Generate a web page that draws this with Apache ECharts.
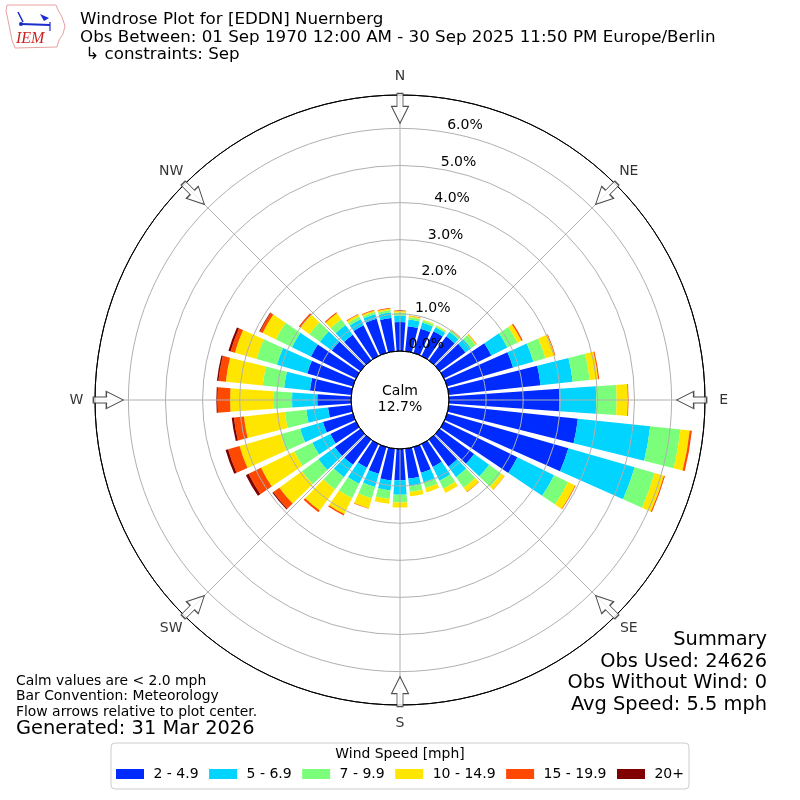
<!DOCTYPE html>
<html>
<head>
<meta charset="utf-8">
<script src="https://cdn.jsdelivr.net/npm/echarts@6/dist/echarts.min.js"></script>
<style>
html,body{margin:0;padding:0;background:#ffffff;}
#chart{width:800px;height:800px;}
</style>
</head>
<body>
<div id="chart"></div>
<script>
// ---------------- data ----------------
const directions = [0,10,20,30,40,50,60,70,80,90,100,110,120,130,140,150,160,170,
                    180,190,200,210,220,230,240,250,260,270,280,290,300,310,320,330,340,350];
const speedBins = ['2 - 4.9','5 - 6.9','7 - 9.9','10 - 14.9','15 - 19.9','20+'];
const binColors = ['#002bff','#00d4ff','#7bff7b','#ffe600','#ff4800','#800000'];

// percent of observations per direction for each speed bin
const bin2to5 = [0.78,0.68,0.68,0.74,0.80,0.86,1.42,1.85,2.49,2.98,3.50,3.40,2.20,1.15,0.90,0.69,0.72,0.81,
                 0.84,0.86,0.75,0.71,0.84,0.85,0.77,0.84,0.63,0.91,1.12,1.28,1.35,0.95,0.85,0.92,0.96,0.90];
const bin5to7 = [0.18,0.18,0.17,0.12,0.15,0.19,0.48,0.57,0.87,0.99,1.96,1.86,1.10,0.50,0.35,0.41,0.27,0.21,
                 0.39,0.27,0.37,0.48,0.41,0.55,0.54,0.64,0.59,0.68,0.70,0.85,0.57,0.40,0.33,0.18,0.13,0.15];
const bin7to10 = [0.08,0.07,0.06,0.04,0.05,0.15,0.30,0.34,0.46,0.55,0.82,0.56,0.42,0.40,0.35,0.24,0.16,0.15,
                  0.21,0.23,0.32,0.43,0.41,0.55,0.54,0.55,0.58,0.51,0.58,0.57,0.48,0.35,0.19,0.08,0.06,0.07];
const bin10to15 = [0.04,0.03,0.02,0.02,0.02,0.03,0.12,0.26,0.23,0.30,0.25,0.26,0.21,0.11,0.14,0.13,0.12,0.12,
                   0.14,0.13,0.28,0.48,0.70,0.75,1.00,1.15,1.11,1.16,1.00,0.61,0.40,0.30,0.20,0.06,0.04,0.04];
const bin15to20 = [0.01,0.01,0.00,0.00,0.01,0.01,0.04,0.02,0.03,0.02,0.06,0.03,0.02,0.01,0.01,0.00,0.00,0.00,
                   0.00,0.00,0.01,0.04,0.06,0.20,0.37,0.32,0.27,0.34,0.20,0.12,0.08,0.05,0.03,0.02,0.02,0.02];
const bin20plus = [0,0,0,0,0,0,0,0,0,0,0,0,0,0,0,0,0,0,
                   0,0,0,0,0,0.03,0.08,0.07,0.06,0.03,0.04,0.06,0.02,0,0,0,0,0];
const binValues = [bin2to5, bin5to7, bin7to10, bin10to15, bin15to20, bin20plus];

const radiusMax = 6.9;
const compassLabels = ['N','NE','E','SE','S','SW','W','NW'];
const compassAngles = [0,45,90,135,180,225,270,315];
const calmPercent = 12.7;

const titleLines = ['Windrose Plot for [EDDN] Nuernberg',
                    'Obs Between: 01 Sep 1970 12:00 AM - 30 Sep 2025 11:50 PM Europe/Berlin',
                    ' \u21b3 constraints: Sep'];
const noteLines = ['Calm values are < 2.0 mph','Bar Convention: Meteorology','Flow arrows relative to plot center.'];
const generatedText = 'Generated: 31 Mar 2026';
const summaryLines = ['Summary','Obs Used: 24626','Obs Without Wind: 0','Avg Speed: 5.5 mph'];
const legendTitle = 'Wind Speed [mph]';

// ---------------- chart ----------------
const FONT = 'DejaVu Sans';
const GRID = '#b0b0b0';
const chart = echarts.init(document.getElementById('chart'), null, {renderer: 'canvas'});

const polarRadius = [49, 305];
const labelRadiusValue = 7.40;   // where compass letters sit (beyond the frame)
const arrowRadiusValue = 6.54;   // centre of the flow arrows

const barSeries = speedBins.map((name, i) => ({
  name: name,
  type: 'bar',
  coordinateSystem: 'polar',
  polarIndex: 0,
  stack: 'wind',
  data: binValues[i],
  barCategoryGap: '20%',
  itemStyle: {color: binColors[i]},
  z: 2
}));

const arrowPath = 'path://M-3,0 L3,0 L3,13 L8.5,13 L0,30 L-8.5,13 L-3,13 Z';

const option = {
  animation: false,
  backgroundColor: '#ffffff',
  textStyle: {fontFamily: FONT},
  polar: [
    {center: ['50%','50%'], radius: polarRadius},
    {center: ['50%','50%'], radius: polarRadius},
    {center: ['50%','50%'], radius: polarRadius}
  ],
  angleAxis: [
    {
      polarIndex: 0, type: 'category', data: directions.map(String),
      startAngle: 95, clockwise: true, show: false
    },
    {
      polarIndex: 1, type: 'value', min: 0, max: 360, interval: 45,
      startAngle: 90, clockwise: true, z: 5,
      axisLine: {show: true, lineStyle: {color: '#000', width: 1}},
      axisTick: {show: false},
      axisLabel: {show: false},
      splitLine: {show: true, lineStyle: {color: GRID, width: 1}}
    },
    {
      polarIndex: 2, type: 'value', min: 0, max: 360,
      startAngle: 80, clockwise: true, show: false
    }
  ],
  radiusAxis: [
    {
      polarIndex: 0, type: 'value', min: 0, max: radiusMax, interval: 1, z: 5,
      axisLine: {show: false}, axisTick: {show: false}, axisLabel: {show: false},
      splitLine: {show: true, lineStyle: {color: ['#000000', GRID, GRID, GRID, GRID, GRID, GRID, '#000000'], width: 1}}
    },
    {
      polarIndex: 1, type: 'value', min: 0, max: radiusMax,
      axisLine: {show: false}, axisTick: {show: false}, axisLabel: {show: false}, splitLine: {show: false}
    },
    {
      polarIndex: 2, type: 'value', min: 0, max: radiusMax, interval: 1, z: 8,
      axisLine: {show: false}, axisTick: {show: false}, splitLine: {show: false},
      axisLabel: {
        show: true, margin: 0, align: 'left', verticalAlign: 'bottom',
        fontFamily: FONT, fontSize: 14, color: '#000',
        formatter: v => (Math.abs(v - Math.round(v)) < 1e-6 ? v.toFixed(1) + '%' : '')
      }
    }
  ],
  legend: {
    data: speedBins,
    left: 'center', top: 743,
    orient: 'horizontal',
    icon: 'rect',
    itemWidth: 28, itemHeight: 10, itemGap: 10.5,
    padding: [24, 5, 8, 5],
    borderColor: '#cccccc', borderWidth: 1, borderRadius: 4,
    formatter: n => ' ' + n,
    textStyle: {fontFamily: FONT, fontSize: 14, color: '#000'}
  },
  series: barSeries.concat([
    {
      type: 'scatter', coordinateSystem: 'polar', polarIndex: 1, z: 10, clip: false,
      symbol: arrowPath, symbolSize: [17, 30],
      itemStyle: {color: '#ffffff', borderColor: '#222222', borderWidth: 1.1},
      data: compassAngles.map(a => ({value: [arrowRadiusValue, a], symbolRotate: -a})),
      silent: true
    },
    {
      type: 'scatter', coordinateSystem: 'polar', polarIndex: 1, z: 10, clip: false,
      symbol: 'circle', symbolSize: 2, itemStyle: {color: 'rgba(0,0,0,0)'},
      data: compassAngles.map((a, i) => ({value: [labelRadiusValue, a], name: compassLabels[i]})),
      label: {
        show: true, position: 'inside', formatter: p => p.name,
        fontFamily: FONT, fontSize: 14, color: '#000'
      },
      labelLayout: {hideOverlap: false},
      silent: true
    }
  ]),
  graphic: [
    // titles
    ...titleLines.map((t, i) => ({
      type: 'text', x: 80, y: 20 + i * 17.5, z: 20,
      style: {text: t, font: '16.7px "DejaVu Sans"', fill: '#000', verticalAlign: 'middle', align: 'left'}
    })),
    // calm text
    {type: 'text', x: 400, y: 391, z: 20,
     style: {text: 'Calm', font: '14px "DejaVu Sans"', fill: '#000', align: 'center', verticalAlign: 'middle'}},
    {type: 'text', x: 400, y: 407, z: 20,
     style: {text: calmPercent.toFixed(1) + '%', font: '14px "DejaVu Sans"', fill: '#000', align: 'center', verticalAlign: 'middle'}},
    // notes
    ...noteLines.map((t, i) => ({
      type: 'text', x: 16, y: 681 + i * 15.6, z: 20,
      style: {text: t, font: '13.9px "DejaVu Sans"', fill: '#000', verticalAlign: 'middle', align: 'left'}
    })),
    {type: 'text', x: 16, y: 728.5, z: 20,
     style: {text: generatedText, font: '19.4px "DejaVu Sans"', fill: '#000', verticalAlign: 'middle', align: 'left'}},
    // summary
    ...summaryLines.map((t, i) => ({
      type: 'text', x: 767, y: 640 + i * 21.6, z: 20,
      style: {text: t, font: '19.4px "DejaVu Sans"', fill: '#000', verticalAlign: 'middle', align: 'right'}
    })),
    // legend title
    {type: 'text', x: 400, y: 754, z: 20,
     style: {text: legendTitle, font: '13.9px "DejaVu Sans"', fill: '#000', align: 'center', verticalAlign: 'middle'}},
    // IEM logo (decorative)
    {type: 'group', x: 0, y: 0, z: 20, children: [
      {type: 'polyline', shape: {points: [[7,5],[56,5],[58,10],[62,17],[65,26],[63,34],[59,40],[57,47],[15,48],[12,40],[10,30],[8,20],[6,11],[7,5]]},
       style: {stroke: '#e8a0a0', fill: 'none', lineWidth: 1}},
      {type: 'line', shape: {x1: 21, y1: 24, x2: 50, y2: 25}, style: {stroke: '#1a2ccc', lineWidth: 2}},
      {type: 'line', shape: {x1: 18, y1: 12, x2: 23, y2: 22}, style: {stroke: '#1a2ccc', lineWidth: 1.5}},
      {type: 'polygon', shape: {points: [[40,14],[49,18],[44,21]]}, style: {fill: '#1a2ccc'}},
      {type: 'line', shape: {x1: 50, y1: 22, x2: 50, y2: 31}, style: {stroke: '#1a2ccc', lineWidth: 1.2}},
      {type: 'circle', shape: {cx: 21, cy: 24, r: 2}, style: {fill: '#1a2ccc'}},
      {type: 'text', x: 16, y: 39, style: {text: 'IEM', font: 'italic 16px "Liberation Serif"', fill: '#cc2222', verticalAlign: 'middle'}}
    ]}
  ]
};

chart.setOption(option);
</script>
</body>
</html>
